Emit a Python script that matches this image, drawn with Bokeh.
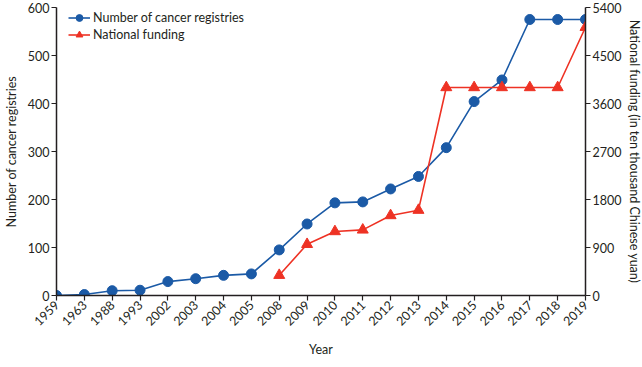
import math
from bokeh.plotting import figure
from bokeh.models import Range1d, LinearAxis, FixedTicker, Legend, LegendItem
from bokeh.embed import file_html
from bokeh.resources import INLINE

years = ["1959", "1963", "1988", "1993", "2002", "2003", "2004", "2005", "2008", "2009",
         "2010", "2011", "2012", "2013", "2014", "2015", "2016", "2017", "2018", "2019"]
registries = [0, 2, 10, 11, 29, 35, 42, 45, 95, 149,
              193, 195, 222, 248, 308, 404, 449, 575, 575, 575]
funding_years = ["2008", "2009", "2010", "2011", "2012", "2013",
                 "2014", "2015", "2016", "2017", "2018", "2019"]
funding = [380, 960, 1200, 1230, 1500, 1600, 3900, 3900, 3900, 3900, 3900, 5030]
left_ticks = [0, 100, 200, 300, 400, 500, 600]
right_ticks = [0, 900, 1800, 2700, 3600, 4500, 5400]

BLUE = "#1b5aa6"
RED = "#ee3224"
FONT = "Lato"
FS = "12.5px"
AXC = "#231f20"

pos = {y: i for i, y in enumerate(years)}
xr = [pos[y] for y in years]
xf = [pos[y] for y in funding_years]

FW, FH = 529, 288
p = figure(frame_width=FW, frame_height=FH,
           min_border_left=45, min_border_right=50, min_border_top=7, min_border_bottom=56,
           x_range=Range1d(0, len(years) - 1), y_range=Range1d(0, 600),
           output_backend="svg", toolbar_location=None)
p.extra_y_ranges = {"fund": Range1d(0, 5400)}
p.outline_line_color = None
p.xgrid.visible = False
p.ygrid.visible = False

l1 = p.line(xr, registries, line_color=BLUE, line_width=1.6)
m1 = p.scatter(xr, registries, marker="circle", size=10, fill_color=BLUE, line_color=BLUE)
l2 = p.line(xf, funding, line_color=RED, line_width=1.6, y_range_name="fund")
m2 = p.scatter(xf, funding, marker="triangle", size=11, fill_color=RED, line_color=RED,
               y_range_name="fund")

def style(ax):
    ax.axis_line_color = AXC
    ax.axis_line_width = 1.5
    ax.major_tick_line_color = AXC
    ax.major_tick_line_width = 1.2
    ax.major_tick_out = 5
    ax.major_tick_in = 0
    ax.minor_tick_line_color = None
    ax.major_label_text_font = FONT
    ax.major_label_text_font_size = FS
    ax.major_label_text_color = "#231f20"
    ax.axis_label_text_font = FONT
    ax.axis_label_text_font_size = FS
    ax.axis_label_text_font_style = "normal"
    ax.axis_label_text_color = "#231f20"
    ax.major_label_standoff = 2

xa = p.xaxis[0]
xa.ticker = FixedTicker(ticks=list(range(len(years))))
xa.major_label_overrides = {i: y for i, y in enumerate(years)}
xa.major_label_orientation = math.pi / 4
xa.axis_label = "Year"
style(xa)
xa.axis_label_standoff = 9

ya = p.yaxis[0]
ya.ticker = FixedTicker(ticks=left_ticks)
ya.axis_label = "Number of cancer registries"
style(ya)
ya.axis_label_standoff = 6

ra = LinearAxis(y_range_name="fund", ticker=FixedTicker(ticks=right_ticks),
                axis_label="National funding (in ten thousand Chinese yuan)")
style(ra)
ra.axis_label_standoff = 3
p.add_layout(ra, "right")

legend = Legend(items=[LegendItem(label="Number of cancer registries", renderers=[l1, m1]),
                       LegendItem(label="National funding", renderers=[l2, m2])],
                location=(12, FH - 36))
legend.border_line_color = None
legend.background_fill_alpha = 0
legend.padding = 0
legend.margin = 0
legend.spacing = 0
legend.glyph_height = 17
legend.label_height = 17
legend.glyph_width = 22
legend.label_standoff = 3
legend.label_text_font = FONT
legend.label_text_font_size = FS
legend.label_text_color = "#231f20"
p.add_layout(legend)

open("out.html", "w").write(file_html(p, INLINE))
